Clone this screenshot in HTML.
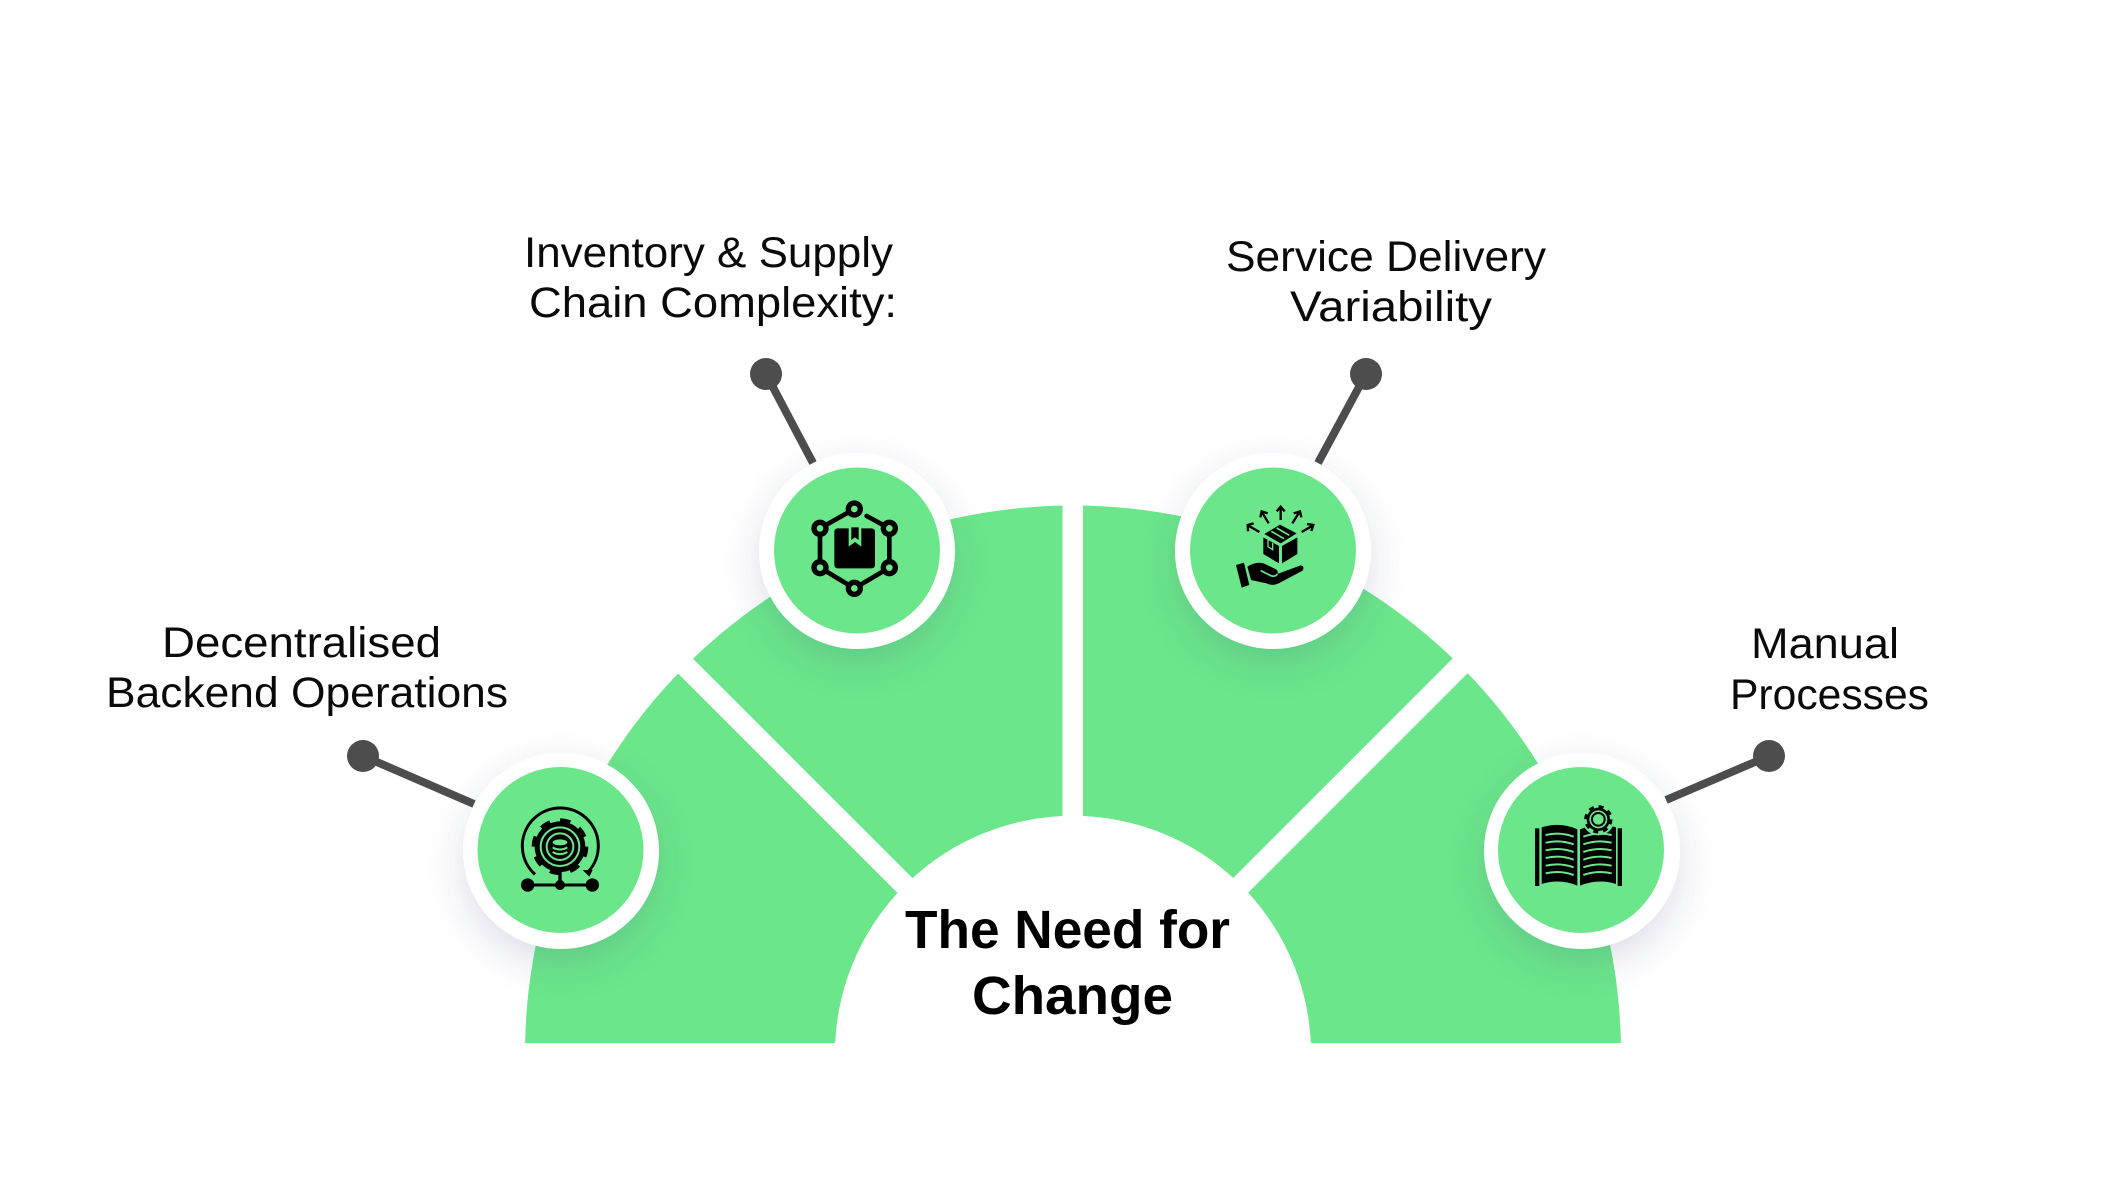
<!DOCTYPE html>
<html>
<head>
<meta charset="utf-8">
<style>
html,body{margin:0;padding:0;background:#fff;}
svg{display:block;}
text{font-family:"Liberation Sans",sans-serif;fill:#0a0a0a;}
</style>
</head>
<body>
<svg xmlns="http://www.w3.org/2000/svg" width="2101" height="1201" viewBox="0 0 2101 1201">
<defs>
<filter id="sh" x="-50%" y="-50%" width="200%" height="200%">
<feDropShadow dx="0" dy="14" stdDeviation="18" flood-color="#39487a" flood-opacity="0.18"/>
</filter>
</defs>
<rect width="2101" height="1201" fill="#fff"/>

<!-- annulus -->
<path d="M525.1,1043 A548,548 0 0 1 1620.9,1043 L1310.75,1043 A238,238 0 0 0 835.25,1043 Z" fill="#6be68a"/>
<!-- gaps -->
<rect x="1062.5" y="480" width="20.5" height="345" fill="#fff"/>
<line x1="1073" y1="1053.5" x2="600" y2="580.5" stroke="#fff" stroke-width="21"/>
<line x1="1073" y1="1053" x2="1546" y2="580" stroke="#fff" stroke-width="21"/>
<path d="M835.25,1043 A238,238 0 0 1 1310.75,1043 Z" fill="#fff"/>

<!-- connectors -->
<g stroke="#4d4d4d" stroke-width="8" fill="none">
<line x1="363" y1="756" x2="474" y2="804"/>
<line x1="766" y1="374" x2="813" y2="463"/>
<line x1="1366" y1="374" x2="1318" y2="463"/>
<line x1="1769" y1="756" x2="1666" y2="800"/>
</g>
<g fill="#4d4d4d">
<circle cx="363" cy="756" r="16"/>
<circle cx="766" cy="374" r="16"/>
<circle cx="1366" cy="374" r="16"/>
<circle cx="1769" cy="756" r="16"/>
</g>

<!-- badges -->
<g filter="url(#sh)"><circle cx="561" cy="851" r="98" fill="#fff"/></g>
<g filter="url(#sh)"><circle cx="857" cy="551" r="98" fill="#fff"/></g>
<g filter="url(#sh)"><circle cx="1273" cy="551" r="98" fill="#fff"/></g>
<g filter="url(#sh)"><circle cx="1582" cy="851" r="98" fill="#fff"/></g>
<g fill="#6be68a">
<circle cx="560.5" cy="850" r="83"/>
<circle cx="857" cy="550.5" r="83"/>
<circle cx="1273" cy="550.5" r="83"/>
<circle cx="1581" cy="850" r="83"/>
</g>

<!-- icon 1: gear -->
<g transform="translate(440,740) scale(0.33333)">
<path d="M285,403 A114,114 0 1 1 445,395" fill="none" stroke="#000" stroke-width="9"/>
<polygon points="428,390 458,390 448,410" fill="#000"/>
<line x1="360" y1="390" x2="360" y2="435" stroke="#000" stroke-width="10"/>
<line x1="263" y1="435" x2="457" y2="435" stroke="#000" stroke-width="9"/>
<circle cx="263" cy="435" r="20" fill="#000"/>
<circle cx="457" cy="435" r="20" fill="#000"/>
<circle cx="360" cy="435" r="15" fill="#000"/>
<circle cx="360" cy="320" r="76" fill="#000"/>
<circle cx="360" cy="320" r="80" fill="none" stroke="#000" stroke-width="10" stroke-dasharray="31.4 31.4"/>
<circle cx="360" cy="320" r="58" fill="#000" stroke="#6be68a" stroke-width="6"/>
<circle cx="360" cy="320" r="40" fill="#000" stroke="#6be68a" stroke-width="6"/>
<ellipse cx="360" cy="307" rx="22" ry="9" fill="#6be68a"/>
<path d="M338,322 Q360,335 382,322" fill="none" stroke="#6be68a" stroke-width="6"/>
<path d="M338,336 Q360,349 382,336" fill="none" stroke="#6be68a" stroke-width="6"/>
</g>

<!-- icon 2: hexagon box -->
<g transform="translate(740,440) scale(0.33333)">
<path d="M380,228 L448,265 L448,383 L343,445 L240,383 L240,265 L343,207" fill="none" stroke="#000" stroke-width="14" stroke-linecap="round"/>
<g fill="#6be68a" stroke="#000" stroke-width="16">
<circle cx="343" cy="207" r="18"/>
<circle cx="448" cy="265" r="18"/>
<circle cx="448" cy="383" r="18"/>
<circle cx="343" cy="445" r="18"/>
<circle cx="240" cy="383" r="18"/>
<circle cx="240" cy="265" r="18"/>
</g>
<rect x="283" y="265" width="122" height="120" rx="10" fill="#000"/>
<polygon points="326,262 364,262 364,320 345,306 326,320" fill="#6be68a"/>
<polygon points="334,262 356,262 356,300 345,292 334,300" fill="#000"/>
</g>

<!-- icon 3: box and hand -->
<g transform="translate(1170,440) scale(0.33333)">
<polygon points="280,292 327,318 327,370 280,342" fill="#000"/>
<polygon points="336,318 382,292 382,342 336,370" fill="#000"/>
<polygon points="283,282 330,254 380,280 332,310" fill="#000"/>
<path d="M304,274 L342,296 M320,264 L358,286" stroke="#6be68a" stroke-width="5" fill="none"/>
<path d="M294,300 L294,320 L308,329 L308,309" stroke="#6be68a" stroke-width="4" fill="none"/>
<g stroke="#000" stroke-width="7" fill="none">
<path d="M332,240 V204 M320,214 L332,200 L344,214"/>
<path d="M296,250 L277,218 M271,232 L275,214 L293,220"/>
<path d="M367,250 L387,218 M371,220 L390,214 L394,232"/>
<path d="M268,276 L237,258 M234,274 L233,255 L251,250"/>
<path d="M395,276 L426,258 M411,252 L430,255 L424,273"/>
</g>
<polygon points="198,375 222,368 238,435 215,443" fill="#000"/>
<path d="M232,380 Q262,362 285,372 L318,388 Q326,394 322,402 L392,376 Q405,378 398,392 L330,428 Q310,440 290,430 L243,420 Z" fill="#000"/>
<path d="M272,392 L305,408 Q318,410 322,402" stroke="#6be68a" stroke-width="5" fill="none"/>
</g>

<!-- icon 4: book -->
<g transform="translate(1490,740) scale(0.33333)">
<rect x="135" y="265" width="13" height="173" fill="#000"/>
<rect x="383" y="265" width="13" height="173" fill="#000"/>
<path d="M155,262 Q210,245 262,268 L262,437 Q210,415 155,432 Z" fill="#000"/>
<path d="M270,268 Q325,245 378,262 L378,432 Q325,415 270,437 Z" fill="#000"/>
<g fill="none" stroke="#6be68a" stroke-width="6">
<path d="M167,285 Q210,275 251,290"/>
<path d="M167,308 Q210,298 251,313"/>
<path d="M167,331 Q210,321 251,336"/>
<path d="M167,354 Q210,344 251,359"/>
<path d="M167,377 Q210,367 251,382"/>
<path d="M167,400 Q210,390 251,405"/>
<path d="M280,290 Q322,275 365,285"/>
<path d="M280,313 Q322,298 365,308"/>
<path d="M280,336 Q322,321 365,331"/>
<path d="M280,359 Q322,344 365,354"/>
<path d="M280,382 Q322,367 365,377"/>
<path d="M280,405 Q322,390 365,400"/>
</g>
<circle cx="325" cy="238" r="48" fill="#6be68a"/>
<circle cx="325" cy="238" r="35" fill="#000"/>
<circle cx="325" cy="238" r="38" fill="none" stroke="#000" stroke-width="9" stroke-dasharray="14.9 14.9"/>
<circle cx="325" cy="238" r="27" fill="#6be68a"/>
<circle cx="325" cy="238" r="19" fill="#6be68a" stroke="#000" stroke-width="6"/>
</g>

<!-- labels -->
<g font-size="43">
<text x="162" y="657" textLength="279" lengthAdjust="spacingAndGlyphs">Decentralised</text>
<text x="106" y="707" textLength="402" lengthAdjust="spacingAndGlyphs">Backend Operations</text>
<text x="524" y="267" textLength="369" lengthAdjust="spacingAndGlyphs">Inventory &amp; Supply</text>
<text x="529" y="317" textLength="368" lengthAdjust="spacingAndGlyphs">Chain Complexity:</text>
<text x="1226" y="271" textLength="320" lengthAdjust="spacingAndGlyphs">Service Delivery</text>
<text x="1290" y="321" textLength="202" lengthAdjust="spacingAndGlyphs">Variability</text>
<text x="1751" y="658" textLength="148" lengthAdjust="spacingAndGlyphs">Manual</text>
<text x="1730" y="709" textLength="199" lengthAdjust="spacingAndGlyphs">Processes</text>
</g>
<g font-size="54" font-weight="bold">
<text x="905" y="948" textLength="325" lengthAdjust="spacingAndGlyphs" style="fill:#000">The Need for</text>
<text x="972" y="1014" textLength="201" lengthAdjust="spacingAndGlyphs" style="fill:#000">Change</text>
</g>
</svg>
</body>
</html>
